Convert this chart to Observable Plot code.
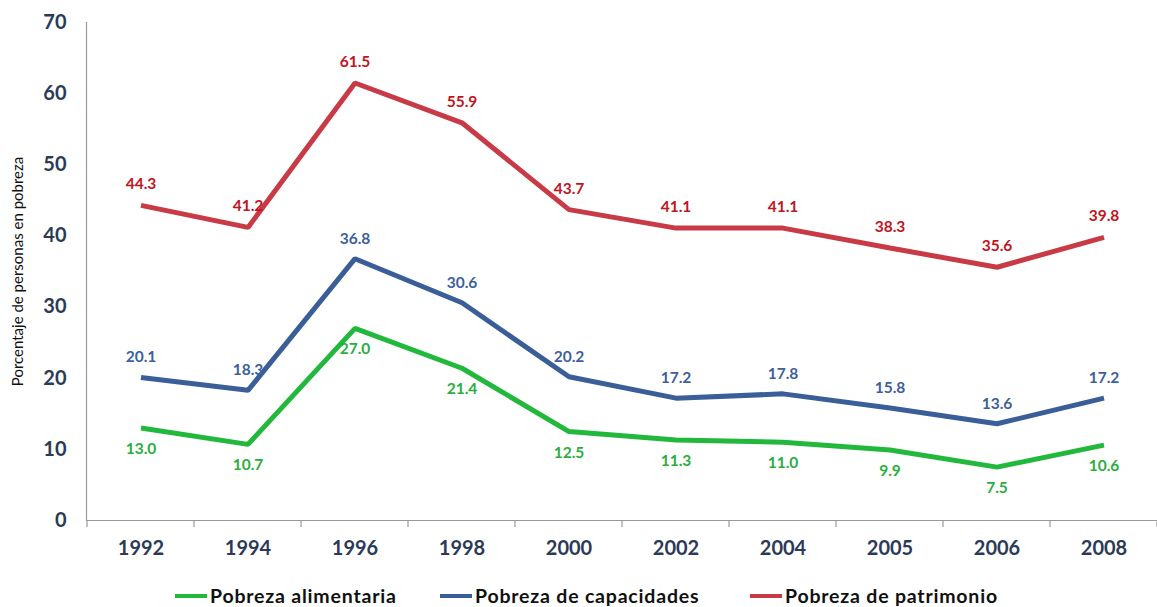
<!DOCTYPE html>
<html>
<head>
<meta charset="utf-8">
<script src="https://cdn.jsdelivr.net/npm/d3@7"></script>
<script src="https://cdn.jsdelivr.net/npm/@observablehq/plot@0.6"></script>
<style>
  html, body { margin: 0; padding: 0; background: #fff; overflow: hidden; }
  #chart { width: 1157px; }
  .legend { position: relative; height: 35px; font-family: Lato, "Open Sans", sans-serif; font-weight: bold; font-size: 19.5px; letter-spacing: 0.8px; color: #111; }
  .legend .item { position: absolute; top: 12px; display: flex; align-items: center; white-space: nowrap; }
  .legend .sw { width: 32px; height: 4px; margin-right: 3px; }
</style>
</head>
<body>
<div id="chart"></div>
<script>
const years = ["1992","1994","1996","1998","2000","2002","2004","2005","2006","2008"];
const alimentaria = [13.0, 10.7, 27.0, 21.4, 12.5, 11.3, 11.0, 9.9, 7.5, 10.6];
const capacidades = [20.1, 18.3, 36.8, 30.6, 20.2, 17.2, 17.8, 15.8, 13.6, 17.2];
const patrimonio = [44.3, 41.2, 61.5, 55.9, 43.7, 41.1, 41.1, 38.3, 35.6, 39.8];
const yTicks = [0, 10, 20, 30, 40, 50, 60, 70];
const seriesNames = ["Pobreza alimentaria", "Pobreza de capacidades", "Pobreza de patrimonio"];
const lineColors = ["#22b83c", "#3a5e98", "#c73a46"];
const textColors = ["#2aae3e", "#3d5f9c", "#c0141e"];
const labelDy = [21, -20, -21];
const legendLeft = [175, 440, 750];

const seriesValues = [alimentaria, capacidades, patrimonio];
const data = seriesValues.flatMap((vals, s) => vals.map((v, i) => ({year: years[i], value: v, s})));

const font = 'Lato, "Open Sans", sans-serif';

function bandTicks(index, scales, values, dimensions) {
  const g = d3.create("svg:g");
  const bw = scales.x.bandwidth ? scales.x.bandwidth() : 0;
  const xs = years.map(y => scales.x(y));
  xs.push(scales.x(years[years.length - 1]) + bw);
  const y0 = scales.y(0);
  for (const x of xs) {
    g.append("line").attr("x1", x).attr("x2", x).attr("y1", y0).attr("y2", y0 + 7)
      .attr("stroke", "#999").attr("stroke-width", 1.2);
  }
  return g.node();
}

const marks = [
  Plot.frame({anchor: "left", stroke: "#999", strokeWidth: 1.2}),
  Plot.ruleY([0], {stroke: "#999", strokeWidth: 1.2}),
  bandTicks,
  Plot.axisY({ticks: yTicks, tickSize: 6, tickPadding: 14, fontSize: 20, fontWeight: "bold", fill: "#2b3b57", stroke: null, label: null, tickFormat: d => d}),
  Plot.axisX({tickSize: 0, tickPadding: 20, fontSize: 20, fontWeight: "bold", fill: "#2b3b57", label: null}),
  Plot.text(["Porcentaje de personas en pobreza"], {frameAnchor: "left", textAnchor: "middle", rotate: -90, dx: -68, dy: 0, fontSize: 15, fill: "#111"})
];
for (let s = 0; s < 3; s++) {
  const d = data.filter(r => r.s === s);
  marks.push(Plot.line(d, {x: "year", y: "value", stroke: lineColors[s], strokeWidth: 5, strokeLinejoin: "miter", strokeLinecap: "butt"}));
}
for (let s = 0; s < 3; s++) {
  const d = data.filter(r => r.s === s);
  marks.push(Plot.text(d, {x: "year", y: "value", text: r => r.value.toFixed(1), dy: labelDy[s], fill: textColors[s], fontSize: 15.5, fontWeight: "bold"}));
}

const plot = Plot.plot({
  width: 1157,
  height: 572,
  marginLeft: 86,
  marginRight: 0,
  marginTop: 22,
  marginBottom: 52,
  style: {fontFamily: font, background: "#fff", overflow: "visible"},
  x: {type: "band", domain: years, padding: 0, axis: null},
  y: {domain: [0, 70], axis: null},
  marks
});
document.getElementById("chart").appendChild(plot);

const legend = d3.select("#chart").append("div").attr("class", "legend");
seriesNames.forEach((n, i) => {
  const it = legend.append("div").attr("class", "item").style("left", legendLeft[i] + "px");
  it.append("div").attr("class", "sw").style("background", lineColors[i]);
  it.append("span").text(n);
});
</script>
</body>
</html>
